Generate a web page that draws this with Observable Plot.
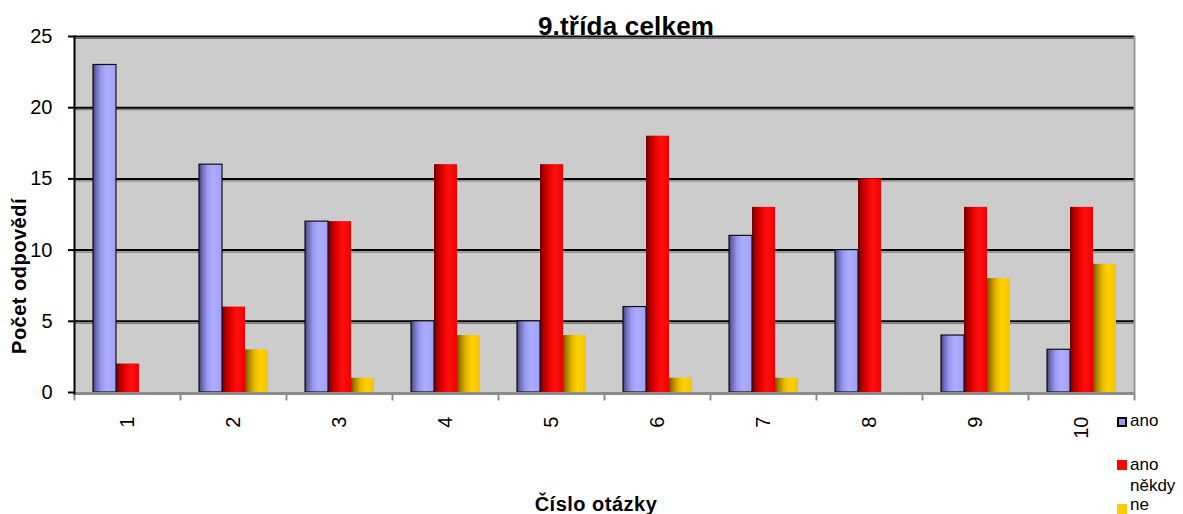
<!DOCTYPE html>
<html>
<head>
<meta charset="utf-8">
<script src="https://cdn.jsdelivr.net/npm/d3@7"></script>
<script src="https://cdn.jsdelivr.net/npm/@observablehq/plot@0.6"></script>
<style>
  html, body { margin: 0; padding: 0; background: #fff; }
  #wrap { position: relative; width: 1183px; height: 514px; font-family: "Liberation Sans", Arial, sans-serif; }
  #wrap svg { position: absolute; left: 0; top: 0; }
  .ovl { position: absolute; white-space: nowrap; color: #000; line-height: 1; }
  #title { font-weight: bold; font-size: 26px; letter-spacing: 0.2px; left: 626px; top: 13px; transform: translateX(-50%); }
  #xtitle { font-weight: bold; font-size: 20px; letter-spacing: 0.5px; left: 596px; top: 494px; transform: translateX(-50%); }
  #ytitle { font-weight: bold; font-size: 20px; letter-spacing: 0.5px; left: 19px; top: 276px; transform: translate(-50%, -50%) rotate(-90deg); }
  .leg { position: absolute; font-size: 17px; }
  .sw { position: absolute; width: 10px; height: 10px; box-sizing: border-box; }
</style>
</head>
<body>
<div id="wrap">
  <div id="title" class="ovl">9.třída celkem</div>
  <div id="ytitle" class="ovl">Počet odpovědí</div>
  <div id="xtitle" class="ovl">Číslo otázky</div>
</div>
<script>
// Survey answers per question, class 9 in total
const questions = ["1", "2", "3", "4", "5", "6", "7", "8", "9", "10"];
const series = ["ano", "ano někdy", "ne"];
const ano = [23, 16, 12, 5, 5, 6, 11, 10, 4, 3];
const anoNekdy = [2, 6, 12, 16, 16, 18, 13, 15, 13, 13];
const ne = [0, 3, 1, 4, 4, 1, 1, 0, 8, 9];
const yTicks = [0, 5, 10, 15, 20, 25];

const swatchColors = ["#9999ff", "#ff0000", "#ffcc00"];
const gradIds = ["g-ano", "g-anonekdy", "g-ne"];

const rows = [];
questions.forEach((q, i) => {
  rows.push({q, s: series[0], v: ano[i]});
  rows.push({q, s: series[1], v: anoNekdy[i]});
  rows.push({q, s: series[2], v: ne[i]});
});

const chart = Plot.plot({
  width: 1183,
  height: 514,
  marginLeft: 72,
  marginRight: 47,
  marginTop: 36,
  marginBottom: 122,
  style: {fontFamily: "Liberation Sans, Arial, sans-serif", background: "transparent", color: "#000"},
  fx: {domain: questions, paddingInner: 0, paddingOuter: 0},
  x: {domain: series, paddingInner: 0, paddingOuter: 0.745, axis: null},
  y: {domain: [0, 25]},
  color: {type: "ordinal", domain: series, range: gradIds.map(id => `url(#${id})`)},
  marks: [
    // grey plot area
    Plot.frame({fill: "#cccccc", stroke: "#cccccc", strokeWidth: 1}),
    // horizontal grid with its shadow
    Plot.gridY({ticks: yTicks.slice(1), stroke: "#6a6a6a", strokeOpacity: 1, strokeWidth: 1, dy: 2}),
    Plot.gridY({ticks: yTicks.slice(1), stroke: "#000", strokeOpacity: 1, strokeWidth: 2}),
    // bars
    Plot.barY(rows, {fx: "q", x: "s", y: "v", fill: "s"}),
    Plot.barY(rows.filter(d => d.s === series[0]), {fx: "q", x: "s", y: "v", fill: "none", stroke: "#111", strokeWidth: 1.2}),
    // category axis line and boundary ticks
    Plot.ruleY([0], {stroke: "#8c8c8c", strokeWidth: 3, dy: 1}),
    Plot.frame({anchor: "left", stroke: "#8c8c8c", strokeWidth: 2, insetTop: 357, insetBottom: -7}),
    Plot.frame({anchor: "right", stroke: "#8c8c8c", strokeWidth: 2, insetTop: 357, insetBottom: -7, facetAnchor: "right"}),
    // plot edges
    Plot.frame({anchor: "right", stroke: "#999", strokeWidth: 2, facetAnchor: "right"}),
    Plot.frame({anchor: "left", stroke: "#000", strokeWidth: 2, insetBottom: -1, facetAnchor: "left"}),
    // axes
    Plot.axisY({ticks: yTicks, tickSize: 6, tickPadding: 16, fontSize: 20, label: null, stroke: "#000", strokeWidth: 2}),
    Plot.axisFx({anchor: "bottom", tickSize: 0, tickPadding: 24, tickRotate: -90, fontSize: 20, label: null})
  ]
});

// horizontal shading that gives the bars their rounded look
const defs = d3.select(chart).insert("defs", ":first-child");
const gradients = [
  [["0%", "#40406e"], ["12%", "#6666b0"], ["35%", "#9898f0"], ["60%", "#acacff"], ["100%", "#a0a0f8"]],
  [["0%", "#6e0000"], ["15%", "#a80000"], ["40%", "#e80000"], ["65%", "#ff1010"], ["100%", "#f00000"]],
  [["0%", "#705000"], ["15%", "#a88000"], ["40%", "#e8b800"], ["65%", "#ffd200"], ["100%", "#f5c400"]]
];
gradients.forEach((stops, i) => {
  const g = defs.append("linearGradient").attr("id", gradIds[i]).attr("x1", 0).attr("x2", 1).attr("y1", 0).attr("y2", 0);
  stops.forEach(([o, c]) => g.append("stop").attr("offset", o).attr("stop-color", c));
});

const wrap = document.getElementById("wrap");
wrap.insertBefore(chart, wrap.firstChild);

// legend at the lower right
const legendItems = [
  {label: "ano", top: 409, sw: 417, color: swatchColors[0], border: "2px solid #000", lh: 24},
  {label: "ano<br>někdy", top: 454, sw: 460, color: swatchColors[1], border: "none", lh: 21},
  {label: "ne", top: 496, sw: 504, color: swatchColors[2], border: "none", lh: 18}
];
legendItems.forEach(it => {
  const s = document.createElement("div");
  s.className = "sw";
  s.style.left = "1117px";
  s.style.top = it.sw + "px";
  s.style.background = it.color;
  s.style.border = it.border;
  wrap.appendChild(s);
  const t = document.createElement("div");
  t.className = "leg";
  t.style.left = "1130px";
  t.style.top = it.top + "px";
  t.style.lineHeight = it.lh + "px";
  t.innerHTML = it.label;
  wrap.appendChild(t);
});
</script>
</body>
</html>
